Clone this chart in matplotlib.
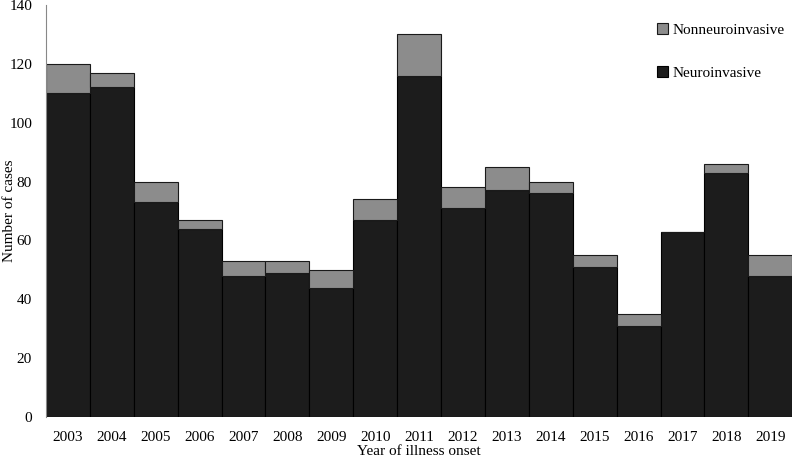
import matplotlib
matplotlib.use("Agg")
import matplotlib.pyplot as plt
import numpy as np

years = ["2003", "2004", "2005", "2006", "2007", "2008", "2009", "2010", "2011",
         "2012", "2013", "2014", "2015", "2016", "2017", "2018", "2019"]
neuro = [110, 112, 73, 64, 48, 49, 44, 67, 116, 71, 77, 76, 51, 31, 63, 83, 48]
total = [120, 117, 80, 67, 53, 53, 50, 74, 130, 78, 85, 80, 55, 35, 63, 86, 55]
nonneuro = [t - n for t, n in zip(total, neuro)]

plt.rcParams['font.family'] = ['Liberation Serif', 'DejaVu Serif']

fig = plt.figure(figsize=(7.93, 4.59), dpi=100)
ax = fig.add_axes([0.058, 0.0915, 0.941, 0.8975])
x = np.arange(len(years))
ax.bar(x, neuro, width=1.0, color="#1c1c1c", edgecolor="#000000", linewidth=0.8,
       label="Neuroinvasive")
ax.bar(x, nonneuro, bottom=neuro, width=1.0, color="#8c8c8c", edgecolor="#1a1a1a",
       linewidth=0.8, label="Nonneuroinvasive")
ax.set_xlim(-0.5, len(years) - 0.5)
ax.set_ylim(0, 140)
ax.set_yticks(range(0, 141, 20))
ax.set_xticks(x)
ax.set_xticklabels(years)
ax.tick_params(axis='both', length=0, labelsize=11)
ax.tick_params(axis='x', pad=10)
ax.tick_params(axis='y', pad=10)
for s in ["top", "right", "bottom"]:
    ax.spines[s].set_visible(False)
ax.spines["left"].set_color("#888888")
ax.spines["left"].set_linewidth(0.8)
ax.set_xlabel("Year of illness onset", fontsize=11, labelpad=1)
ax.set_ylabel("Number of cases", fontsize=11)
ax.yaxis.set_label_coords(-0.040, 0.5)
h, l = ax.get_legend_handles_labels()
ax.legend(h[::-1], l[::-1], loc="upper left", bbox_to_anchor=(0.80, 0.99),
          frameon=False, fontsize=11, labelspacing=1.9, handlelength=0.75,
          handleheight=0.75, handletextpad=0.3)
fig.savefig("out.png", dpi=100)
